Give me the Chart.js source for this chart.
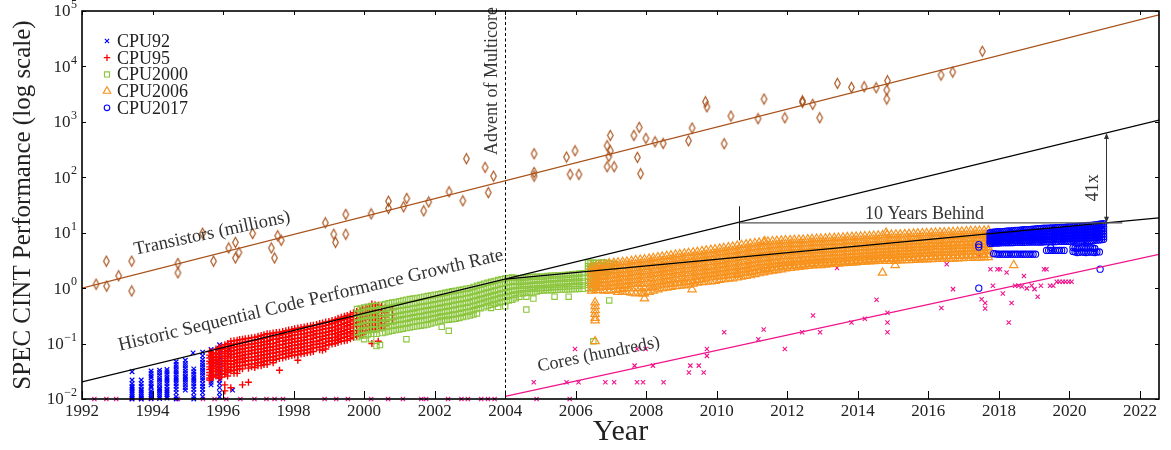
<!DOCTYPE html>
<html>
<head>
<meta charset="utf-8">
<title>SPEC CINT Performance</title>
<script src="https://cdn.jsdelivr.net/npm/chart.js@4.4.1/dist/chart.umd.min.js"></script>
<style>
  html, body { margin: 0; padding: 0; background: #fff; }
  canvas { display: block; }
</style>
</head>
<body>
<canvas id="chart" width="1171" height="450"></canvas>
<script>
// ---------- axes ----------
const yearTicks = [1992, 1994, 1996, 1998, 2000, 2002, 2004, 2006, 2008, 2010, 2012, 2014, 2016, 2018, 2020, 2022];
const yearTickLabels = ['1992', '1994', '1996', '1998', '2000', '2002', '2004', '2006', '2008', '2010', '2012', '2014', '2016', '2018', '2020', '2022'];
const decadeTicks = [0.01, 0.1, 1, 10, 100, 1000, 10000, 100000];
const decadeExponents = ['\u22122', '\u22121', '0', '1', '2', '3', '4', '5'];

// ---------- benchmark results, [year, [scores...]] ----------
const cpu92 = [
  [1993.42, [0.031, 0.022, 0.019, 0.017, 0.016, 0.015, 0.014, 0.013, 0.012, 0.011, 0.0105, 0.010]],
  [1993.68, [0.022, 0.019, 0.017, 0.015, 0.014, 0.013, 0.012, 0.011, 0.0105, 0.010]],
  [1993.96, [0.032, 0.029, 0.026, 0.024, 0.021, 0.019, 0.017, 0.016, 0.014, 0.013, 0.012, 0.011, 0.0102]],
  [1994.20, [0.033, 0.030, 0.027, 0.024, 0.022, 0.020, 0.018, 0.016, 0.015, 0.014, 0.013, 0.012, 0.011, 0.0102]],
  [1994.41, [0.034, 0.031, 0.028, 0.025, 0.023, 0.021, 0.019, 0.017, 0.015, 0.014, 0.013, 0.012, 0.011, 0.0104]],
  [1994.67, [0.047, 0.042, 0.038, 0.034, 0.031, 0.028, 0.025, 0.023, 0.021, 0.019, 0.017, 0.015, 0.013, 0.011, 0.010]],
  [1994.93, [0.050, 0.044, 0.040, 0.036, 0.032, 0.029, 0.026, 0.024, 0.022, 0.020, 0.018, 0.016, 0.0145]],
  [1995.15, [0.068]],
  [1995.17, [0.035, 0.031, 0.028, 0.025, 0.023, 0.021, 0.019, 0.017, 0.015, 0.013, 0.011, 0.010]],
  [1995.42, [0.070, 0.060, 0.052, 0.046, 0.041, 0.037, 0.033, 0.030, 0.027, 0.024, 0.022, 0.019, 0.017, 0.015, 0.013, 0.011]],
  [1995.66, [0.078, 0.066, 0.056, 0.048, 0.042, 0.037, 0.032, 0.028, 0.025, 0.022, 0.020, 0.018]],
  [1995.90, [0.095, 0.082, 0.070, 0.060, 0.052, 0.045, 0.040, 0.035, 0.030, 0.026, 0.022, 0.019, 0.016, 0.013, 0.011]],
  [1996.18, [0.097, 0.080, 0.065]],
  [1996.27, [0.0145]]
];

const cpu95 = [
  [1995.62, [0.072, 0.062, 0.055, 0.048, 0.043, 0.038, 0.034, 0.030, 0.027, 0.024, 0.022]],
  [1995.67, [0.068, 0.058, 0.046, 0.036, 0.026]],
  [1995.72, [0.065, 0.056, 0.050, 0.044, 0.039, 0.035, 0.031, 0.028, 0.025]],
  [1995.80, [0.080, 0.068, 0.059, 0.052, 0.046, 0.041, 0.036, 0.032, 0.026]],
  [1995.88, [0.085, 0.074, 0.064, 0.056, 0.049, 0.043, 0.038, 0.034, 0.030, 0.027, 0.024]],
  [1995.96, [0.090, 0.078, 0.067, 0.058, 0.050, 0.044, 0.039, 0.033, 0.029, 0.025]],
  [1996.05, [0.095, 0.082, 0.071, 0.062, 0.054, 0.047, 0.041, 0.036, 0.032, 0.028, 0.018, 0.014]],
  [1996.13, [0.100, 0.088, 0.076, 0.066, 0.058, 0.050, 0.044, 0.038, 0.034, 0.030, 0.026]],
  [1996.22, [0.11, 0.095, 0.083, 0.072, 0.063, 0.055, 0.048, 0.042, 0.037, 0.032, 0.016]],
  [1996.31, [0.112, 0.098, 0.086, 0.075, 0.065, 0.057, 0.049, 0.043, 0.038, 0.033, 0.029]],
  [1996.40, [0.115, 0.10, 0.088, 0.077, 0.067, 0.058, 0.051, 0.045, 0.039, 0.034, 0.029]],
  [1996.47, [0.118, 0.102, 0.090, 0.079, 0.069, 0.060, 0.052, 0.046, 0.040, 0.035]],
  [1996.55, [0.12, 0.105, 0.092, 0.080, 0.070, 0.061, 0.053, 0.046, 0.040, 0.035, 0.018]],
  [1996.63, [0.122, 0.107, 0.094, 0.082, 0.072, 0.063, 0.055, 0.048, 0.041]],
  [1996.72, [0.125, 0.11, 0.096, 0.084, 0.073, 0.064, 0.056, 0.049, 0.042, 0.036, 0.020]],
  [1996.81, [0.128, 0.112, 0.098, 0.086, 0.075, 0.066, 0.057, 0.050, 0.043, 0.038]],
  [1996.90, [0.13, 0.115, 0.10, 0.088, 0.077, 0.067, 0.058, 0.050, 0.043, 0.037]],
  [1996.99, [0.135, 0.118, 0.103, 0.090, 0.079, 0.069, 0.060, 0.052, 0.045, 0.040]],
  [1997.08, [0.14, 0.12, 0.105, 0.092, 0.080, 0.070, 0.061, 0.053, 0.046, 0.040]],
  [1997.16, [0.145, 0.125, 0.108, 0.095, 0.082, 0.072, 0.063, 0.055, 0.048, 0.042]],
  [1997.25, [0.15, 0.13, 0.11, 0.097, 0.085, 0.074, 0.064, 0.056, 0.049, 0.042]],
  [1997.33, [0.15, 0.132, 0.115, 0.099, 0.086, 0.075, 0.066, 0.057, 0.050]],
  [1997.42, [0.155, 0.135, 0.12, 0.10, 0.088, 0.077, 0.067, 0.058, 0.050, 0.045]],
  [1997.51, [0.158, 0.138, 0.12, 0.104, 0.090, 0.079, 0.069, 0.060, 0.052]],
  [1997.60, [0.16, 0.14, 0.125, 0.11, 0.094, 0.082, 0.071, 0.062, 0.054, 0.033]],
  [1997.69, [0.165, 0.145, 0.127, 0.11, 0.096, 0.083, 0.073, 0.064, 0.055]],
  [1997.78, [0.17, 0.15, 0.13, 0.115, 0.10, 0.086, 0.075, 0.066, 0.057]],
  [1997.86, [0.175, 0.153, 0.133, 0.116, 0.101, 0.088, 0.077, 0.067, 0.059]],
  [1997.95, [0.18, 0.16, 0.14, 0.12, 0.105, 0.092, 0.080, 0.070, 0.061]],
  [1998.03, [0.185, 0.162, 0.142, 0.123, 0.107, 0.093, 0.081, 0.071, 0.062]],
  [1998.12, [0.19, 0.165, 0.145, 0.125, 0.11, 0.095, 0.083, 0.072, 0.063, 0.050]],
  [1998.21, [0.195, 0.17, 0.148, 0.128, 0.112, 0.098, 0.085, 0.074, 0.065]],
  [1998.30, [0.20, 0.175, 0.15, 0.13, 0.115, 0.10, 0.087, 0.076, 0.066]],
  [1998.39, [0.205, 0.18, 0.156, 0.136, 0.118, 0.103, 0.090, 0.078, 0.068]],
  [1998.48, [0.21, 0.185, 0.16, 0.14, 0.12, 0.105, 0.092, 0.080, 0.070]],
  [1998.56, [0.215, 0.19, 0.165, 0.143, 0.125, 0.108, 0.095, 0.083, 0.072]],
  [1998.65, [0.22, 0.195, 0.17, 0.15, 0.13, 0.11, 0.097, 0.085]],
  [1998.74, [0.23, 0.20, 0.175, 0.152, 0.132, 0.115, 0.10, 0.087, 0.077]],
  [1998.82, [0.235, 0.205, 0.18, 0.155, 0.135, 0.12, 0.10, 0.088, 0.076]],
  [1998.91, [0.245, 0.213, 0.185, 0.16, 0.14, 0.122, 0.106, 0.092, 0.080]],
  [1999.00, [0.25, 0.22, 0.19, 0.165, 0.145, 0.125, 0.11, 0.095]],
  [1999.09, [0.26, 0.228, 0.195, 0.17, 0.148, 0.128, 0.112, 0.098]],
  [1999.18, [0.27, 0.235, 0.20, 0.175, 0.15, 0.13, 0.115, 0.10]],
  [1999.26, [0.285, 0.248, 0.212, 0.183, 0.158, 0.137, 0.12, 0.105]],
  [1999.35, [0.30, 0.26, 0.22, 0.19, 0.165, 0.145, 0.125, 0.11]],
  [1999.44, [0.31, 0.27, 0.232, 0.20, 0.172, 0.15, 0.13, 0.112]],
  [1999.52, [0.32, 0.28, 0.24, 0.21, 0.18, 0.155, 0.135, 0.115]],
  [1999.61, [0.34, 0.295, 0.255, 0.22, 0.19, 0.163, 0.142, 0.122]],
  [1999.70, [0.36, 0.31, 0.27, 0.23, 0.20, 0.17, 0.15, 0.13]],
  [1999.79, [0.38, 0.325, 0.28, 0.24, 0.205, 0.176, 0.153, 0.135]],
  [1999.88, [0.40, 0.34, 0.29, 0.25, 0.21, 0.18, 0.16, 0.14]],
  [1999.96, [0.42, 0.355, 0.30, 0.26, 0.22, 0.19, 0.165, 0.145]],
  [2000.05, [0.44, 0.37, 0.31, 0.27, 0.23, 0.20, 0.17]],
  [2000.14, [0.47, 0.39, 0.33, 0.28, 0.24, 0.205, 0.175]],
  [2000.22, [0.52, 0.42, 0.35, 0.29, 0.25, 0.21, 0.18, 0.10]],
  [2000.31, [0.50, 0.41, 0.34, 0.285, 0.245, 0.205, 0.18]],
  [2000.40, [0.49, 0.40, 0.33, 0.28, 0.24, 0.20, 0.11]],
  [2000.50, [0.47, 0.38, 0.315, 0.265, 0.225, 0.19]],
  [2000.60, [0.45, 0.36, 0.30, 0.25, 0.21]],
  [2000.80, [0.42, 0.33, 0.27]]
];

const cpu2000 = [
  [1999.80, [0.42, 0.35, 0.29, 0.24, 0.20, 0.16, 0.13]],
  [1999.90, [0.43, 0.36, 0.30, 0.25, 0.205, 0.17, 0.14]],
  [2000.00, [0.45, 0.37, 0.31, 0.26, 0.21, 0.17, 0.14, 0.12]],
  [2000.10, [0.46, 0.38, 0.315, 0.265, 0.215, 0.175, 0.145]],
  [2000.20, [0.47, 0.39, 0.32, 0.27, 0.22, 0.18, 0.15, 0.12]],
  [2000.28, [0.475, 0.395, 0.325, 0.27, 0.222, 0.182, 0.15]],
  [2000.35, [0.48, 0.40, 0.33, 0.27, 0.22, 0.18, 0.15, 0.09]],
  [2000.45, [0.42, 0.30, 0.20, 0.094]],
  [2000.52, [0.50, 0.415, 0.34, 0.28, 0.23, 0.19, 0.155]],
  [2000.60, [0.52, 0.43, 0.35, 0.29, 0.24, 0.20, 0.16]],
  [2000.70, [0.535, 0.44, 0.36, 0.295, 0.245, 0.205, 0.165]],
  [2000.80, [0.55, 0.45, 0.37, 0.30, 0.25, 0.21, 0.17]],
  [2000.90, [0.565, 0.465, 0.38, 0.31, 0.26, 0.215, 0.175]],
  [2001.00, [0.58, 0.48, 0.39, 0.32, 0.27, 0.22, 0.18]],
  [2001.10, [0.60, 0.49, 0.40, 0.33, 0.275, 0.225, 0.185]],
  [2001.20, [0.62, 0.50, 0.41, 0.34, 0.28, 0.23, 0.19, 0.12]],
  [2001.30, [0.635, 0.515, 0.42, 0.35, 0.29, 0.24, 0.195]],
  [2001.40, [0.65, 0.53, 0.43, 0.36, 0.30, 0.25, 0.20]],
  [2001.50, [0.665, 0.545, 0.445, 0.37, 0.305, 0.255, 0.205]],
  [2001.60, [0.68, 0.56, 0.46, 0.38, 0.31, 0.26, 0.21]],
  [2001.70, [0.70, 0.575, 0.47, 0.39, 0.32, 0.265, 0.215]],
  [2001.80, [0.72, 0.59, 0.48, 0.40, 0.33, 0.27, 0.22]],
  [2001.90, [0.74, 0.605, 0.495, 0.41, 0.34, 0.28, 0.23]],
  [2002.00, [0.76, 0.62, 0.51, 0.42, 0.35, 0.29, 0.24]],
  [2002.10, [0.78, 0.64, 0.525, 0.435, 0.36, 0.30, 0.25]],
  [2002.20, [0.80, 0.66, 0.54, 0.45, 0.37, 0.31, 0.26, 0.20]],
  [2002.30, [0.825, 0.68, 0.555, 0.46, 0.38, 0.315, 0.265]],
  [2002.40, [0.85, 0.70, 0.57, 0.47, 0.39, 0.32, 0.27, 0.17]],
  [2002.50, [0.875, 0.72, 0.59, 0.485, 0.40, 0.33, 0.275]],
  [2002.60, [0.90, 0.74, 0.61, 0.50, 0.41, 0.34, 0.28]],
  [2002.70, [0.925, 0.76, 0.625, 0.515, 0.425, 0.35, 0.29]],
  [2002.80, [0.95, 0.78, 0.64, 0.53, 0.44, 0.36, 0.30]],
  [2002.90, [0.975, 0.805, 0.66, 0.545, 0.45, 0.37, 0.31]],
  [2003.00, [1.0, 0.83, 0.68, 0.56, 0.46, 0.38, 0.32]],
  [2003.10, [1.05, 0.865, 0.71, 0.585, 0.48, 0.40, 0.335]],
  [2003.20, [1.1, 0.90, 0.74, 0.61, 0.50, 0.42, 0.35]],
  [2003.30, [1.15, 0.94, 0.77, 0.635, 0.525, 0.435]],
  [2003.40, [1.2, 0.98, 0.80, 0.66, 0.55, 0.45]],
  [2003.50, [1.25, 1.02, 0.835, 0.69, 0.575, 0.475]],
  [2003.60, [1.3, 1.06, 0.87, 0.72, 0.60, 0.50, 0.44]],
  [2003.70, [1.35, 1.10, 0.905, 0.75, 0.625, 0.52]],
  [2003.80, [1.4, 1.15, 0.94, 0.78, 0.65, 0.54, 0.46]],
  [2003.90, [1.45, 1.20, 0.98, 0.81, 0.675, 0.56]],
  [2004.00, [1.5, 1.25, 1.02, 0.84, 0.70, 0.58, 0.47]],
  [2004.10, [1.52, 1.28, 1.05, 0.87, 0.72, 0.60]],
  [2004.20, [1.55, 1.30, 1.08, 0.90, 0.75, 0.62]],
  [2004.30, [1.52, 1.29, 1.09, 0.92, 0.77, 0.66]],
  [2004.40, [1.5, 1.28, 1.10, 0.94, 0.80, 0.70]],
  [2004.50, [1.52, 1.30, 1.11, 0.95, 0.81]],
  [2004.60, [1.55, 1.32, 1.12, 0.96, 0.82, 0.70, 0.41]],
  [2004.70, [1.58, 1.34, 1.13, 0.97, 0.83]],
  [2004.80, [1.6, 1.36, 1.15, 0.98, 0.84, 0.65]],
  [2004.90, [1.6, 1.37, 1.16, 0.99, 0.87]],
  [2005.00, [1.6, 1.38, 1.18, 1.0, 0.90]],
  [2005.10, [1.62, 1.40, 1.19, 1.01, 0.91]],
  [2005.20, [1.65, 1.42, 1.2, 1.02, 0.92]],
  [2005.30, [1.68, 1.43, 1.21, 1.04, 0.92]],
  [2005.40, [1.7, 1.45, 1.23, 1.05, 0.93, 0.70]],
  [2005.50, [1.7, 1.46, 1.24, 1.05, 0.935]],
  [2005.60, [1.7, 1.47, 1.25, 1.06, 0.94]],
  [2005.70, [1.72, 1.48, 1.26, 1.07, 0.945]],
  [2005.80, [1.75, 1.5, 1.28, 1.08, 0.95, 0.70]],
  [2005.90, [1.78, 1.51, 1.29, 1.09, 0.955]],
  [2006.00, [1.8, 1.52, 1.3, 1.1, 0.96]],
  [2006.10, [1.82, 1.53, 1.31, 1.11, 0.965]],
  [2006.20, [1.85, 1.55, 1.32, 1.12, 0.97]],
  [2006.35, [2.9, 2.5, 2.2, 1.9, 1.6, 1.35, 1.15, 1.0]],
  [2006.42, [2.8, 2.4, 2.1, 1.8, 1.5, 1.25, 1.08]],
  [2006.50, [2.9, 2.6, 2.3, 2.0, 1.7, 1.4, 1.2, 1.0, 0.11]],
  [2006.58, [2.85, 2.45, 2.15, 1.85, 1.55, 1.3, 1.1]],
  [2006.65, [2.8, 2.5, 2.2, 1.9, 1.6, 1.35]],
  [2006.72, [2.9, 2.55, 2.25, 1.95, 1.65]],
  [2006.80, [2.9, 2.6, 2.3, 2.0, 1.7]],
  [2006.88, [2.85, 2.5, 2.2, 1.9]],
  [2006.95, [2.8, 2.5, 2.2, 0.6]],
  [2007.02, [2.75, 2.45, 2.15]],
  [2007.10, [2.7, 2.4]]
];

const cpu2006 = [
  [2006.45, [2.4, 2.1, 1.8, 1.55, 1.35, 1.15, 1.0, 0.9]],
  [2006.55, [0.55, 0.47, 0.40, 0.34, 0.29, 0.26, 0.11]],
  [2006.58, [2.5, 2.15, 1.85, 1.6, 1.38, 1.18, 1.02, 0.92]],
  [2006.70, [2.6, 2.2, 1.9, 1.6, 1.4, 1.2, 1.05, 0.92]],
  [2006.82, [2.7, 2.3, 1.95, 1.65, 1.42, 1.22, 1.05, 0.9]],
  [2006.95, [2.8, 2.4, 2.0, 1.7, 1.45, 1.25, 1.05, 0.9]],
  [2007.08, [2.85, 2.45, 2.05, 1.75, 1.48, 1.27, 1.08, 0.93]],
  [2007.20, [2.9, 2.5, 2.1, 1.8, 1.5, 1.3, 1.1, 0.95, 0.85]],
  [2007.33, [2.95, 2.55, 2.15, 1.82, 1.55, 1.32, 1.12, 0.97, 0.86]],
  [2007.45, [3.0, 2.6, 2.2, 1.85, 1.6, 1.35, 1.15, 1.0, 0.85]],
  [2007.58, [3.1, 2.65, 2.25, 1.9, 1.62, 1.38, 1.17, 1.0, 0.83]],
  [2007.70, [3.2, 2.7, 2.3, 1.95, 1.65, 1.4, 1.2, 1.0, 0.8]],
  [2007.83, [3.25, 2.75, 2.35, 1.98, 1.68, 1.42, 1.2, 1.0, 0.82]],
  [2007.95, [3.3, 2.8, 2.4, 2.0, 1.7, 1.45, 1.2, 1.0, 0.8, 0.65]],
  [2008.08, [3.4, 2.9, 2.45, 2.05, 1.75, 1.48, 1.22, 1.02, 0.85]],
  [2008.20, [3.5, 3.0, 2.5, 2.1, 1.8, 1.5, 1.25, 1.05, 0.9]],
  [2008.33, [3.6, 3.05, 2.55, 2.15, 1.85, 1.55, 1.3, 1.1, 0.95]],
  [2008.45, [3.7, 3.1, 2.6, 2.2, 1.9, 1.6, 1.35, 1.15, 1.0]],
  [2008.58, [3.8, 3.2, 2.7, 2.28, 1.95, 1.65, 1.4, 1.18, 1.02]],
  [2008.70, [3.9, 3.3, 2.8, 2.35, 2.0, 1.7, 1.45, 1.2, 1.05]],
  [2008.83, [4.0, 3.4, 2.85, 2.42, 2.05, 1.75, 1.48, 1.22, 1.08]],
  [2008.95, [4.1, 3.5, 2.9, 2.5, 2.1, 1.8, 1.5, 1.25, 1.1]],
  [2009.08, [4.2, 3.55, 2.95, 2.55, 2.15, 1.82, 1.52, 1.28, 1.12]],
  [2009.20, [4.3, 3.6, 3.0, 2.6, 2.2, 1.85, 1.55, 1.3, 1.15]],
  [2009.33, [4.4, 3.7, 3.1, 2.65, 2.25, 1.9, 1.6, 1.35, 1.2]],
  [2009.45, [4.5, 3.8, 3.2, 2.7, 2.3, 1.95, 1.65, 1.4, 1.25]],
  [2009.58, [4.65, 3.9, 3.3, 2.8, 2.35, 2.0, 1.7, 1.45, 1.28]],
  [2009.70, [4.8, 4.0, 3.4, 2.9, 2.4, 2.05, 1.75, 1.5, 1.3]],
  [2009.83, [4.9, 4.1, 3.5, 2.95, 2.48, 2.1, 1.8, 1.55, 1.32]],
  [2009.95, [5.0, 4.2, 3.6, 3.0, 2.55, 2.15, 1.85, 1.6, 1.35]],
  [2010.08, [5.15, 4.35, 3.7, 3.1, 2.62, 2.22, 1.9, 1.62, 1.4]],
  [2010.20, [5.3, 4.5, 3.8, 3.2, 2.7, 2.3, 1.95, 1.65, 1.45]],
  [2010.33, [5.45, 4.6, 3.9, 3.3, 2.78, 2.35, 2.0, 1.7, 1.48]],
  [2010.45, [5.6, 4.7, 4.0, 3.4, 2.85, 2.4, 2.05, 1.75, 1.5]],
  [2010.58, [5.8, 4.85, 4.1, 3.5, 2.92, 2.45, 2.1, 1.8, 1.55]],
  [2010.70, [6.0, 5.0, 4.2, 3.6, 3.0, 2.5, 2.15, 1.85, 1.6]],
  [2010.83, [6.15, 5.15, 4.35, 3.7, 3.1, 2.6, 2.22, 1.9, 1.65]],
  [2010.95, [6.3, 5.3, 4.5, 3.8, 3.2, 2.7, 2.3, 1.95, 1.7]],
  [2011.08, [6.45, 5.45, 4.6, 3.9, 3.3, 2.8, 2.38, 2.02, 1.78]],
  [2011.20, [6.6, 5.6, 4.7, 4.0, 3.4, 2.9, 2.45, 2.1, 1.85]],
  [2011.33, [6.75, 5.7, 4.8, 4.1, 3.45, 2.95, 2.52, 2.15, 1.92]],
  [2011.45, [6.9, 5.8, 4.9, 4.2, 3.5, 3.0, 2.6, 2.2, 2.0]],
  [2011.58, [7.0, 5.9, 5.0, 4.25, 3.6, 3.05, 2.65, 2.28, 2.05]],
  [2011.70, [7.1, 6.0, 5.1, 4.3, 3.7, 3.1, 2.7, 2.35, 2.1]],
  [2011.83, [7.2, 6.1, 5.2, 4.4, 3.75, 3.15, 2.75, 2.4, 2.18]],
  [2011.95, [7.3, 6.2, 5.3, 4.5, 3.8, 3.2, 2.8, 2.45, 2.25]],
  [2012.08, [7.35, 6.25, 5.35, 4.55, 3.85, 3.25, 2.85, 2.5, 2.3]],
  [2012.20, [7.4, 6.3, 5.4, 4.6, 3.9, 3.3, 2.9, 2.55, 2.35]],
  [2012.33, [7.45, 6.35, 5.45, 4.65, 3.95, 3.35, 2.95, 2.6, 2.4]],
  [2012.45, [7.5, 6.4, 5.5, 4.7, 4.0, 3.4, 3.0, 2.65, 2.45]],
  [2012.58, [7.6, 6.5, 5.55, 4.75, 4.05, 3.45, 3.05, 2.7, 2.5]],
  [2012.70, [7.7, 6.6, 5.6, 4.8, 4.1, 3.5, 3.1, 2.75, 2.55]],
  [2012.83, [7.75, 6.65, 5.65, 4.85, 4.15, 3.55, 3.12, 2.78, 2.58]],
  [2012.95, [7.8, 6.7, 5.7, 4.9, 4.2, 3.6, 3.15, 2.8, 2.6]],
  [2013.08, [7.9, 6.75, 5.75, 4.95, 4.25, 3.65, 3.18, 2.82, 2.65]],
  [2013.20, [8.0, 6.8, 5.8, 5.0, 4.3, 3.7, 3.2, 2.85, 2.7]],
  [2013.33, [8.05, 6.85, 5.85, 5.05, 4.35, 3.75, 3.25, 2.9, 2.72]],
  [2013.45, [8.1, 6.9, 5.9, 5.1, 4.4, 3.8, 3.3, 2.95, 2.75]],
  [2013.58, [8.2, 7.0, 5.95, 5.15, 4.45, 3.85, 3.35, 2.98, 2.8]],
  [2013.70, [8.3, 7.1, 6.0, 5.2, 4.5, 3.9, 3.4, 3.0, 2.85]],
  [2013.83, [8.4, 7.15, 6.05, 5.25, 4.55, 3.95, 3.45, 3.05, 2.88]],
  [2013.95, [8.5, 7.2, 6.1, 5.3, 4.6, 4.0, 3.5, 3.1, 2.9]],
  [2014.08, [8.55, 7.25, 6.15, 5.35, 4.65, 4.05, 3.55, 3.15, 2.95]],
  [2014.20, [8.6, 7.3, 6.2, 5.4, 4.7, 4.1, 3.6, 3.2, 3.0]],
  [2014.33, [8.7, 7.4, 6.3, 5.45, 4.75, 4.15, 3.65, 3.25, 3.02]],
  [2014.45, [8.8, 7.5, 6.4, 5.5, 4.8, 4.2, 3.7, 3.3, 3.05]],
  [2014.58, [8.9, 7.55, 6.45, 5.55, 4.85, 4.25, 3.75, 3.32, 3.08]],
  [2014.70, [9.0, 7.6, 6.5, 5.6, 4.9, 4.3, 3.8, 3.35, 3.1, 1.9]],
  [2014.83, [9.1, 7.7, 6.55, 5.65, 4.95, 4.35, 3.82, 3.38, 3.1]],
  [2014.95, [9.2, 7.8, 6.6, 5.7, 5.0, 4.4, 3.85, 3.4, 3.1]],
  [2015.08, [9.25, 7.85, 6.65, 5.75, 5.05, 4.45, 3.88, 3.42, 3.12]],
  [2015.20, [9.3, 7.9, 6.7, 5.8, 5.1, 4.5, 3.9, 3.45, 3.15]],
  [2015.33, [9.4, 7.95, 6.75, 5.85, 5.15, 4.55, 3.95, 3.48, 3.18]],
  [2015.45, [9.5, 8.0, 6.8, 5.9, 5.2, 4.6, 4.0, 3.5, 3.2]],
  [2015.58, [9.6, 8.1, 6.9, 5.95, 5.25, 4.65, 4.05, 3.52, 3.22]],
  [2015.70, [9.7, 8.2, 7.0, 6.0, 5.3, 4.7, 4.1, 3.55, 3.25]],
  [2015.83, [9.75, 8.25, 7.05, 6.05, 5.35, 4.75, 4.15, 3.58, 3.28]],
  [2015.95, [9.8, 8.3, 7.1, 6.1, 5.4, 4.8, 4.2, 3.6, 3.3]],
  [2016.08, [9.9, 8.4, 7.15, 6.15, 5.45, 4.85, 4.22, 3.65, 3.32]],
  [2016.20, [10.0, 8.5, 7.2, 6.2, 5.5, 4.9, 4.25, 3.7, 3.35]],
  [2016.33, [10.05, 8.55, 7.25, 6.25, 5.55, 4.95, 4.28, 3.72, 3.38]],
  [2016.45, [10.1, 8.6, 7.3, 6.3, 5.6, 5.0, 4.3, 3.75, 3.4]],
  [2016.58, [10.2, 8.7, 7.4, 6.35, 5.65, 5.0, 4.35, 3.78, 3.4]],
  [2016.70, [10.3, 8.8, 7.5, 6.4, 5.7, 5.0, 4.4, 3.8, 3.4]],
  [2016.83, [10.4, 8.85, 7.55, 6.45, 5.75, 5.05, 4.42, 3.82, 3.42]],
  [2016.95, [10.5, 8.9, 7.6, 6.5, 5.8, 5.1, 4.45, 3.85, 3.45]],
  [2017.08, [10.6, 9.0, 7.65, 6.55, 5.85, 5.15, 4.48, 3.88, 3.48]],
  [2017.20, [10.7, 9.1, 7.7, 6.6, 5.9, 5.2, 4.5, 3.9, 3.5]],
  [2017.33, [10.75, 9.15, 7.75, 6.65, 5.95, 5.25, 4.55, 3.92, 3.52]],
  [2017.45, [10.8, 9.2, 7.8, 6.7, 6.0, 5.3, 4.6, 3.95, 3.55]],
  [2017.58, [10.9, 9.25, 7.85, 6.75, 6.05, 5.35, 4.65, 3.98, 3.58]],
  [2017.70, [11.0, 9.3, 7.9, 6.8, 6.1, 5.4, 4.7, 4.0, 3.6]],
  [2007.90, [0.8]], [2009.30, [0.95]], [2010.60, [1.75]], [2011.36, [7.0, 2.3]],
  [2014.80, [10.0]], [2015.06, [2.6]], [2018.42, [2.6]]
];

const cpu2017 = [
  [2017.75, [10.0, 9.0, 8.2, 7.5, 6.9, 6.4]],
  [2017.80, [10.1, 9.1, 8.25, 7.55, 6.95, 6.45]],
  [2017.85, [10.2, 9.2, 8.3, 7.6, 7.0, 6.5, 4.2]],
  [2017.91, [10.3, 9.25, 8.35, 7.65, 7.0, 6.5, 4.15]],
  [2017.97, [10.4, 9.3, 8.4, 7.7, 7.0, 6.5, 4.1]],
  [2018.03, [10.45, 9.35, 8.45, 7.7, 7.05, 6.55, 4.1]],
  [2018.10, [10.5, 9.4, 8.5, 7.7, 7.1, 6.6, 4.1]],
  [2018.16, [10.6, 9.45, 8.55, 7.75, 7.1, 6.6, 4.1]],
  [2018.22, [10.7, 9.5, 8.6, 7.8, 7.1, 6.6, 4.1]],
  [2018.28, [10.75, 9.55, 8.65, 7.85, 7.15, 6.6, 4.1]],
  [2018.35, [10.8, 9.6, 8.7, 7.9, 7.2, 6.6, 4.1]],
  [2018.41, [10.9, 9.7, 8.75, 7.95, 7.2, 6.65, 4.1]],
  [2018.47, [11.0, 9.8, 8.8, 8.0, 7.2, 6.7, 4.1]],
  [2018.53, [11.05, 9.85, 8.85, 8.0, 7.25, 6.7, 4.1]],
  [2018.60, [11.1, 9.9, 8.9, 8.0, 7.3, 6.7, 4.1]],
  [2018.66, [11.2, 9.95, 8.95, 8.05, 7.3, 6.7, 4.1]],
  [2018.72, [11.3, 10.0, 9.0, 8.1, 7.3, 6.7, 4.1]],
  [2018.78, [11.35, 10.05, 9.05, 8.15, 7.35, 6.75, 4.1]],
  [2018.85, [11.4, 10.1, 9.1, 8.2, 7.4, 6.8, 4.1]],
  [2018.91, [11.5, 10.2, 9.15, 8.2, 7.4, 6.8, 4.1]],
  [2018.97, [11.6, 10.3, 9.2, 8.2, 7.4, 6.8, 4.1]],
  [2019.04, [11.7, 10.35, 9.25, 8.25, 7.45, 6.8, 4.1]],
  [2019.10, [11.8, 10.4, 9.3, 8.3, 7.5, 6.8]],
  [2019.16, [11.9, 10.45, 9.35, 8.35, 7.5, 6.8]],
  [2019.22, [12.0, 10.5, 9.4, 8.4, 7.5, 6.8]],
  [2019.28, [12.05, 10.55, 9.45, 8.45, 7.55, 6.85]],
  [2019.35, [12.1, 10.6, 9.5, 8.5, 7.6, 6.9, 4.8]],
  [2019.41, [12.15, 10.65, 9.55, 8.5, 7.6, 6.9, 4.8]],
  [2019.47, [12.2, 10.7, 9.6, 8.5, 7.6, 6.9, 5.4, 4.8]],
  [2019.53, [12.25, 10.75, 9.6, 8.55, 7.65, 6.9, 4.8]],
  [2019.60, [12.3, 10.8, 9.6, 8.6, 7.7, 6.9, 4.8]],
  [2019.66, [12.35, 10.85, 9.65, 8.65, 7.7, 6.95, 4.8]],
  [2019.72, [12.4, 10.9, 9.7, 8.7, 7.7, 7.0, 4.8]],
  [2019.78, [12.45, 10.95, 9.75, 8.7, 7.75, 7.0, 4.8]],
  [2019.85, [12.5, 11.0, 9.8, 8.7, 7.8, 7.0, 4.8]],
  [2019.91, [12.6, 11.05, 9.85, 8.75, 7.8, 7.0]],
  [2019.97, [12.7, 11.1, 9.9, 8.8, 7.8, 7.0]],
  [2020.03, [12.75, 11.15, 9.95, 8.85, 7.85, 7.05]],
  [2020.10, [12.8, 11.2, 10.0, 8.9, 7.9, 7.1, 5.4, 4.6]],
  [2020.16, [12.9, 11.3, 10.05, 8.95, 7.9, 7.1, 5.3, 4.5]],
  [2020.22, [13.0, 11.4, 10.1, 9.0, 7.9, 7.1, 5.2, 4.4]],
  [2020.28, [13.1, 11.45, 10.15, 9.0, 7.95, 7.1, 5.3, 4.45]],
  [2020.35, [13.2, 11.5, 10.2, 9.0, 8.0, 7.1, 5.4, 4.5]],
  [2020.41, [13.3, 11.55, 10.25, 9.05, 8.0, 7.15, 5.35, 4.45]],
  [2020.47, [13.4, 11.6, 10.3, 9.1, 8.0, 7.2, 5.3, 4.4]],
  [2020.53, [13.5, 11.7, 10.35, 9.15, 8.05, 7.2, 5.35, 4.45]],
  [2020.60, [13.6, 11.8, 10.4, 9.2, 8.1, 7.2, 5.4, 4.5]],
  [2020.66, [13.75, 11.9, 10.45, 9.25, 8.15, 7.25, 5.3, 4.45]],
  [2020.72, [13.9, 12.0, 10.5, 9.3, 8.2, 7.3, 5.2, 4.4]],
  [2020.78, [14.0, 12.1, 10.6, 9.35, 8.25, 7.35, 4.5]],
  [2020.85, [14.2, 12.2, 10.7, 9.4, 8.3, 7.4, 4.5]],
  [2020.91, [14.35, 12.35, 10.8, 9.5, 8.4, 7.5]],
  [2020.97, [14.5, 12.5, 10.9, 9.6, 8.5, 7.6]],
  [2017.43, [6.1, 5.5, 1.0]],
  [2020.87, [2.2]]
];

// ---------- transistor counts (millions), [year, count] ----------
const transistors = [
  [1992.40, 1.18], [1992.69, 3.07], [1992.70, 1.09], [1993.04, 1.67], [1993.41, 3.07], [1993.41, 0.89],
  [1994.72, 2.79], [1994.72, 1.89], [1995.42, 9.8], [1995.73, 3.07], [1996.16, 5.3], [1996.35, 6.7],
  [1996.35, 3.5], [1996.45, 4.4], [1996.84, 9.7], [1997.37, 5.3], [1997.46, 3.5], [1997.55, 8.8],
  [1997.65, 7.3], [1998.90, 15.1], [1999.14, 9.4], [1999.19, 6.7], [1999.48, 21.4], [1999.48, 9.4],
  [2000.20, 21.9], [2000.69, 37], [2000.69, 27.5], [2001.12, 29.4], [2001.21, 41.6], [2001.69, 24.8],
  [2001.83, 36], [2002.41, 54.7], [2002.80, 37.7], [2002.90, 216], [2003.43, 151], [2003.52, 53],
  [2003.67, 105], [2004.82, 266], [2004.82, 122], [2004.82, 105], [2005.74, 232], [2005.84, 113],
  [2005.98, 301], [2006.09, 113], [2006.89, 371], [2006.94, 238], [2006.98, 570], [2006.98, 301],
  [2006.89, 155], [2007.09, 155], [2007.65, 570], [2007.80, 796], [2007.75, 229], [2007.84, 116],
  [2007.99, 504], [2008.25, 437], [2008.48, 409], [2009.20, 456], [2009.30, 773], [2009.68, 2306],
  [2009.72, 1873], [2010.21, 403], [2010.40, 1273], [2011.17, 1138], [2011.34, 2580], [2011.93, 1186],
  [2012.43, 2403], [2012.43, 2249], [2012.72, 2070], [2012.92, 1186], [2013.42, 4955], [2013.82, 4197],
  [2014.18, 4305], [2014.52, 4126], [2014.84, 5520], [2014.82, 3750], [2014.82, 2580], [2016.36, 7000],
  [2016.69, 7925], [2017.53, 18740]
];

// ---------- core counts (hundreds), [year, cores] ----------
const cores = [
  [1992.35, 0.01], [1992.69, 0.01], [1992.97, 0.01], [1993.41, 0.01], [1993.68, 0.01], [1993.96, 0.01],
  [1994.72, 0.01], [1995.43, 0.01], [1995.76, 0.01], [1996.09, 0.01], [1996.49, 0.01], [1996.89, 0.01],
  [1997.23, 0.01], [1997.46, 0.01], [1997.70, 0.01], [1998.88, 0.01], [1999.21, 0.01], [1999.54, 0.01],
  [2000.20, 0.01], [2000.68, 0.01], [2001.10, 0.01], [2001.62, 0.01], [2001.76, 0.01], [2002.38, 0.01],
  [2002.76, 0.01], [2002.94, 0.01], [2003.32, 0.01], [2003.51, 0.01], [2003.70, 0.01], [2004.89, 0.01],
  [2005.83, 0.01],
  [2004.81, 0.02], [2005.74, 0.02], [2005.98, 0.08], [2006.08, 0.02], [2006.84, 0.02], [2007.09, 0.02],
  [2007.67, 0.04], [2007.74, 0.02], [2007.74, 0.08], [2007.91, 0.02], [2007.98, 0.08], [2008.19, 0.04],
  [2008.49, 0.02], [2009.21, 0.03], [2009.25, 0.04], [2009.49, 0.04], [2009.63, 0.03], [2009.72, 0.08],
  [2009.72, 0.06], [2010.21, 0.16], [2011.18, 0.12], [2011.33, 0.18], [2011.93, 0.08], [2012.42, 0.16],
  [2012.73, 0.32], [2012.93, 0.16], [2013.41, 2.3], [2013.82, 0.24], [2014.20, 0.28], [2014.53, 0.62],
  [2014.84, 0.36], [2014.84, 0.24], [2014.84, 0.16], [2016.37, 0.44], [2016.52, 2.7], [2016.70, 0.96],
  [2017.43, 3.8], [2017.51, 0.63], [2017.61, 0.54], [2017.61, 0.43], [2017.76, 2.2], [2017.83, 1.1],
  [2017.96, 2.2], [2018.03, 2.2], [2018.11, 0.8], [2018.22, 1.92], [2018.28, 0.24], [2018.36, 0.54],
  [2018.46, 1.1], [2018.56, 1.1], [2018.65, 1.07], [2018.71, 1.65], [2018.79, 0.99], [2018.93, 1.12],
  [2019.01, 0.96], [2019.10, 0.70], [2019.19, 1.1], [2019.28, 2.2], [2019.35, 2.2], [2019.45, 1.1],
  [2019.54, 1.1], [2019.64, 1.3], [2019.72, 1.3], [2019.81, 1.3], [2019.89, 1.3], [2019.98, 1.3],
  [2020.06, 1.3]
];

// ---------- trend lines, [year, value] end points ----------
const transistorTrend = [[1992, 1.0], [2022.54, 85000]];
const historicTrend = [[1992, 0.0204], [2022.54, 1072]];
const multicoreTrend = [[2004, 1.46], [2022.54, 18.6]];
const coresTrend = [[2004, 0.0112], [2022.54, 4.07]];

// ---------- annotation values ----------
const multicoreYear = 2004;
const behindSpan = [2010.62, 2021.5];   // "10 Years Behind" span (years)
const behindLevel = 15.1;               // score level of that span
const behindTick = [7.3, 30];           // extent of the start marker
const gapYear = 2021.04;                // year of the 41x gap arrow
const gapRange = [15.1, 631];           // scores between the two trends

// ---------- helpers ----------
const SERIF = "'Liberation Serif', 'DejaVu Serif', serif";
const fromColumns = cols => cols.flatMap(([yr, vals]) => vals.map(v => ({ x: yr, y: v })));
const fromPairs = pairs => pairs.map(([x, y]) => ({ x, y }));

const COLORS = {
  cpu92: '#0000ff', cpu95: '#ff0000', cpu2000: '#8cc63f', cpu2006: '#f7931e',
  cpu2017: '#0000ff', transistors: '#a9521b', cores: '#f0148c'
};

function diamond(color) {
  const c = document.createElement('canvas');
  c.width = 9; c.height = 13;
  const g = c.getContext('2d');
  g.strokeStyle = color; g.lineWidth = 1.15;
  g.beginPath();
  g.moveTo(4.5, 1.5); g.lineTo(7.3, 6.5); g.lineTo(4.5, 11.5); g.lineTo(1.7, 6.5);
  g.closePath(); g.stroke();
  return c;
}

function scatterSet(label, data, color, style, radius, width, order) {
  return {
    label, data, order, clip: false,
    borderColor: color, backgroundColor: 'rgba(0,0,0,0)',
    pointStyle: style, pointRadius: radius, pointBorderWidth: width,
    pointHoverRadius: radius, showLine: false
  };
}

function trendSet(points, color, width) {
  return {
    type: 'line', data: fromPairs(points), order: 0,
    borderColor: color, borderWidth: width, pointRadius: 0, fill: false, tension: 0
  };
}

function drawMarker(ctx, style, x, y, color, r, w) {
  ctx.save();
  ctx.strokeStyle = color; ctx.lineWidth = w;
  ctx.beginPath();
  if (style === 'crossRot') {
    const d = r * Math.SQRT1_2;
    ctx.moveTo(x - d, y - d); ctx.lineTo(x + d, y + d);
    ctx.moveTo(x + d, y - d); ctx.lineTo(x - d, y + d);
  } else if (style === 'cross') {
    ctx.moveTo(x - r, y); ctx.lineTo(x + r, y);
    ctx.moveTo(x, y - r); ctx.lineTo(x, y + r);
  } else if (style === 'rect') {
    const s = r * Math.SQRT1_2;
    ctx.rect(x - s, y - s, 2 * s, 2 * s);
  } else if (style === 'triangle') {
    ctx.moveTo(x, y - r); ctx.lineTo(x + r * 0.866, y + r * 0.5); ctx.lineTo(x - r * 0.866, y + r * 0.5);
    ctx.closePath();
  } else {
    ctx.arc(x, y, r, 0, Math.PI * 2);
  }
  ctx.stroke();
  ctx.restore();
}

function text(ctx, str, x, y, opts) {
  const o = Object.assign({ size: 18, angle: 0, align: 'center', baseline: 'alphabetic', color: '#333' }, opts);
  ctx.save();
  ctx.translate(x, y);
  ctx.rotate(o.angle * Math.PI / 180);
  ctx.font = o.size + 'px ' + SERIF;
  ctx.textAlign = o.align;
  ctx.textBaseline = o.baseline;
  ctx.fillStyle = o.color;
  ctx.fillText(str, 0, 0);
  ctx.restore();
}

const legendEntries = [
  { label: 'CPU92', style: 'crossRot', color: COLORS.cpu92, r: 3, w: 1.1 },
  { label: 'CPU95', style: 'cross', color: COLORS.cpu95, r: 3.2, w: 1.3 },
  { label: 'CPU2000', style: 'rect', color: COLORS.cpu2000, r: 3.6, w: 1.1 },
  { label: 'CPU2006', style: 'triangle', color: COLORS.cpu2006, r: 4.3, w: 1.2 },
  { label: 'CPU2017', style: 'circle', color: COLORS.cpu2017, r: 2.8, w: 1.1 }
];

// Frame, inward ticks, decade labels, reference lines, annotations and legend.
const overlay = {
  id: 'overlay',
  afterDatasetsDraw(chart) {
    const { ctx, chartArea: a, scales: { x, y } } = chart;
    const X = v => x.getPixelForValue(v);
    const Y = v => y.getPixelForValue(v);

    // start of the multicore era
    ctx.save();
    ctx.strokeStyle = '#000'; ctx.lineWidth = 1; ctx.setLineDash([3, 2.5]);
    ctx.beginPath();
    ctx.moveTo(Math.round(X(multicoreYear)) + 0.5, a.top);
    ctx.lineTo(Math.round(X(multicoreYear)) + 0.5, a.bottom);
    ctx.stroke();
    ctx.restore();
    text(ctx, 'Advent of Multicore', X(multicoreYear) - 8, 155, { angle: -90, align: 'left' });

    // "10 Years Behind" span
    ctx.save();
    ctx.strokeStyle = '#555'; ctx.lineWidth = 1.2;
    ctx.beginPath();
    ctx.moveTo(X(behindSpan[0]), Y(behindLevel));
    ctx.lineTo(X(behindSpan[1]), Y(behindLevel));
    ctx.stroke();
    ctx.strokeStyle = '#111'; ctx.lineWidth = 1;
    ctx.beginPath();
    ctx.moveTo(Math.round(X(behindSpan[0])) + 0.5, Y(behindTick[1]));
    ctx.lineTo(Math.round(X(behindSpan[0])) + 0.5, Y(behindTick[0]));
    ctx.stroke();
    ctx.restore();
    text(ctx, '10 Years Behind', (X(behindSpan[0]) + X(behindSpan[1])) / 2 - 6, Y(behindLevel) - 4);

    // 41x gap arrow
    const gx = Math.round(X(gapYear)) + 0.5;
    const gTop = Y(gapRange[1]), gBot = Y(gapRange[0]);
    ctx.save();
    ctx.strokeStyle = '#333'; ctx.fillStyle = '#333'; ctx.lineWidth = 1;
    ctx.beginPath(); ctx.moveTo(gx, gTop + 2); ctx.lineTo(gx, gBot - 2); ctx.stroke();
    ctx.beginPath(); ctx.moveTo(gx, gTop); ctx.lineTo(gx - 2.5, gTop + 6); ctx.lineTo(gx + 2.5, gTop + 6); ctx.closePath(); ctx.fill();
    ctx.beginPath(); ctx.moveTo(gx, gBot); ctx.lineTo(gx - 2.5, gBot - 6); ctx.lineTo(gx + 2.5, gBot - 6); ctx.closePath(); ctx.fill();
    ctx.restore();
    text(ctx, '41x', gx - 9, (gTop + gBot) / 2 + 10, { angle: -90, align: 'center' });

    // trend labels
    text(ctx, 'Transistors (millions)', X(1995.72), Y(8.0), { angle: -12, size: 18.5 });
    text(ctx, 'Historic Sequential Code Performance Growth Rate', X(1998.52), Y(0.493), { angle: -13.3, size: 19 });
    text(ctx, 'Cores (hundreds)', X(2006.68), Y(0.0523), { angle: -11.5, size: 18 });

    // legend
    legendEntries.forEach((e, i) => {
      const cy = a.top + 30 + i * 16.7;
      drawMarker(ctx, e.style, a.left + 25, cy, e.color, e.r, e.w);
      text(ctx, e.label, a.left + 35, cy + 6, { size: 18, align: 'left', color: '#222' });
    });

    // decade labels with superscript exponents
    ctx.save();
    ctx.fillStyle = '#222';
    ctx.textBaseline = 'middle';
    ctx.textAlign = 'left';
    decadeTicks.forEach((v, i) => {
      const py = Y(v);
      ctx.font = '17px ' + SERIF;
      const bw = ctx.measureText('10').width;
      ctx.font = '12px ' + SERIF;
      const ew = ctx.measureText(decadeExponents[i]).width;
      const x0 = a.left - 5 - bw - ew - 0.5;
      ctx.font = '17px ' + SERIF;
      ctx.fillText('10', x0, py + 1);
      ctx.font = '12px ' + SERIF;
      ctx.fillText(decadeExponents[i], x0 + bw + 0.5, py - 6);
    });
    ctx.restore();

    // frame and inward ticks
    ctx.save();
    ctx.strokeStyle = '#000';
    ctx.lineWidth = 1;
    ctx.beginPath();
    yearTicks.forEach(v => {
      const px = Math.round(X(v)) + 0.5;
      ctx.moveTo(px, a.bottom); ctx.lineTo(px, a.bottom - 8);
      ctx.moveTo(px, a.top); ctx.lineTo(px, a.top + 4);
    });
    decadeTicks.forEach(v => {
      const py = Math.round(Y(v)) + 0.5;
      ctx.moveTo(a.left, py); ctx.lineTo(a.left + 4, py);
      ctx.moveTo(a.right, py); ctx.lineTo(a.right - 4, py);
    });
    ctx.stroke();
    ctx.lineWidth = 1.6;
    ctx.strokeRect(a.left, a.top, a.right - a.left, a.bottom - a.top);
    ctx.restore();
  }
};

Chart.defaults.font.family = SERIF;

new Chart(document.getElementById('chart'), {
  type: 'scatter',
  data: {
    datasets: [
      trendSet(transistorTrend, COLORS.transistors, 1.3),
      trendSet(historicTrend, '#000', 1.3),
      trendSet(multicoreTrend, '#000', 1.3),
      trendSet(coresTrend, COLORS.cores, 1.3),
      scatterSet('CPU2017', fromColumns(cpu2017), COLORS.cpu2017, 'circle', 3.1, 1.1, 1),
      scatterSet('CPU2006', fromColumns(cpu2006), COLORS.cpu2006, 'triangle', 4.8, 1.2, 2),
      scatterSet('CPU2000', fromColumns(cpu2000), COLORS.cpu2000, 'rect', 3.8, 1.1, 3),
      scatterSet('CPU95', fromColumns(cpu95), COLORS.cpu95, 'cross', 3.5, 1.4, 4),
      scatterSet('CPU92', fromColumns(cpu92), COLORS.cpu92, 'crossRot', 3.2, 1.2, 5),
      scatterSet('Transistors', fromPairs(transistors), COLORS.transistors, diamond(COLORS.transistors), 5, 1.2, 6),
      scatterSet('Cores', fromPairs(cores), COLORS.cores, 'crossRot', 3, 1.1, 6)
    ]
  },
  options: {
    responsive: false,
    animation: false,
    devicePixelRatio: 1,
    events: [],
    layout: { padding: { left: 0, right: 12, top: 11, bottom: 0 } },
    plugins: { legend: { display: false }, tooltip: { enabled: false } },
    scales: {
      x: {
        type: 'linear', min: 1992, max: 2022.54,
        grid: { display: false, drawTicks: false }, border: { display: false },
        afterBuildTicks: s => { s.ticks = yearTicks.map(v => ({ value: v })); },
        afterFit: s => { s.height = 51; },
        ticks: {
          autoSkip: false, maxRotation: 0, padding: 2, color: '#222',
          font: { family: SERIF, size: 17 },
          callback: (v, i) => yearTickLabels[i]
        },
        title: { display: true, text: 'Year', color: '#222', font: { family: SERIF, size: 30 }, padding: { top: 0, bottom: 0 } }
      },
      y: {
        type: 'logarithmic', min: 0.01, max: 100000,
        grid: { display: false, drawTicks: false }, border: { display: false },
        afterBuildTicks: s => { s.ticks = decadeTicks.map(v => ({ value: v })); },
        afterFit: s => { s.width = 82; },
        ticks: { display: false },
        title: { display: true, text: 'SPEC CINT Performance (log scale)', color: '#222', font: { family: SERIF, size: 25 }, padding: { top: 8, bottom: 0 } }
      }
    }
  },
  plugins: [overlay]
});
</script>
</body>
</html>
